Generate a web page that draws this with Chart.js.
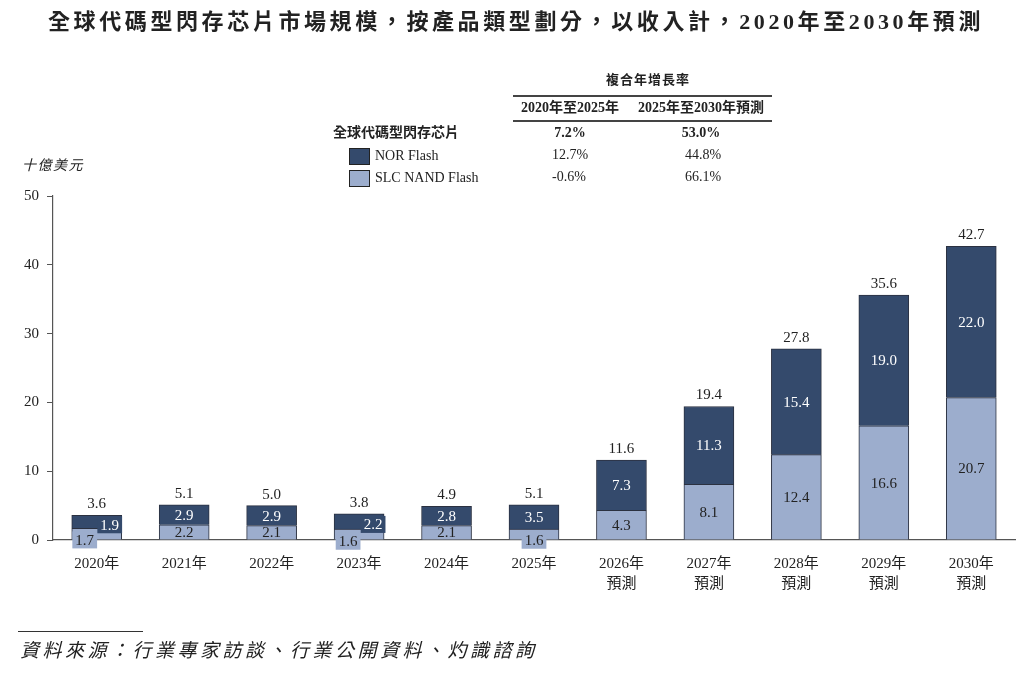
<!DOCTYPE html>
<html>
<head>
<meta charset="utf-8">
<script src="https://cdn.jsdelivr.net/npm/chart.js@4"></script>
<style>
  body { margin: 0; background: #fff; }
  #wrap { position: relative; width: 1032px; height: 675px; overflow: hidden;
          font-family: "Liberation Serif", "Noto Sans CJK TC", serif; color: #222; }
  #wrap canvas { position: absolute; left: 0; top: 0; }
  .t { position: absolute; white-space: nowrap; line-height: 1; }
  .c { transform: translateX(-50%); }
  .b { font-weight: bold; }
  .rule { position: absolute; left: 513px; width: 259px; height: 2px; background: #444; }
  .sw { position: absolute; width: 19px; height: 15px; border: 1px solid #222; }
</style>
</head>
<body>
<div id="wrap">
  <canvas id="flash" width="1032" height="675"></canvas>

  <div class="t c b" style="left:516px; top:11px; font-size:22px; letter-spacing:3.6px;">全球代碼型閃存芯片市場規模，按產品類型劃分，以收入計，2020年至2030年預測</div>

  <div class="t c b" style="left:648px; top:73px; font-size:13px; letter-spacing:1px;">複合年增長率</div>
  <div class="rule" style="top:95px;"></div>
  <div class="t c b" style="left:570px; top:101px; font-size:14px;">2020年至2025年</div>
  <div class="t c b" style="left:701px; top:101px; font-size:14px;">2025年至2030年預測</div>
  <div class="rule" style="top:120px;"></div>

  <div class="t b" style="left:333px; top:126px; font-size:14px;">全球代碼型閃存芯片</div>
  <div class="t c b" style="left:570px; top:126px; font-size:14px;">7.2%</div>
  <div class="t c b" style="left:701px; top:126px; font-size:14px;">53.0%</div>

  <div class="sw" style="left:349px; top:148px; background:#344a6c;"></div>
  <div class="t" style="left:375px; top:149px; font-size:14px;">NOR Flash</div>
  <div class="t c" style="left:570px; top:148px; font-size:14px;">12.7%</div>
  <div class="t c" style="left:703px; top:148px; font-size:14px;">44.8%</div>

  <div class="sw" style="left:349px; top:170px; background:#9cadcd;"></div>
  <div class="t" style="left:375px; top:171px; font-size:14px;">SLC NAND Flash</div>
  <div class="t c" style="left:569px; top:170px; font-size:14px;">-0.6%</div>
  <div class="t c" style="left:703px; top:170px; font-size:14px;">66.1%</div>

  <div class="t" style="left:22px; top:159px; font-size:14px; font-style:italic; letter-spacing:1.5px;">十億美元</div>

  <div style="position:absolute; left:18px; top:631px; width:125px; height:1px; background:#333;"></div>
  <div class="t" style="left:20px; top:641px; font-size:19px; font-style:italic; letter-spacing:3.5px;">資料來源：行業專家訪談、行業公開資料、灼識諮詢</div>
</div>

<script>
// categories and values, in billions of US dollars
var years = [['2020年'], ['2021年'], ['2022年'], ['2023年'], ['2024年'], ['2025年'],
             ['2026年', '預測'], ['2027年', '預測'], ['2028年', '預測'], ['2029年', '預測'], ['2030年', '預測']];
var norFlash = [1.9, 2.9, 2.9, 2.2, 2.8, 3.5, 7.3, 11.3, 15.4, 19.0, 22.0];
var slcNand  = [1.7, 2.2, 2.1, 1.6, 2.1, 1.6, 4.3, 8.1, 12.4, 16.6, 20.7];
var totals   = [3.6, 5.1, 5.0, 3.8, 4.9, 5.1, 11.6, 19.4, 27.8, 35.6, 42.7];
var yTicks   = [0, 10, 20, 30, 40, 50];

var darkBlue = '#344a6c';
var lightBlue = '#9cadcd';

// labels that do not fit inside their segment get moved a bit and drawn on a box
var nudges = [
    { 0: [-12, 6], 3: [-11, 7], 5: [0, 6] },   // SLC NAND
    { 0: [13, 3], 3: [14, 3] }                  // NOR
];

var barLabels = {
    id: 'barLabels',
    afterDatasetsDraw: function (chart) {
        var ctx = chart.ctx;
        ctx.save();
        ctx.font = '15px "Liberation Serif", serif';
        ctx.textAlign = 'center';
        ctx.textBaseline = 'middle';
        chart.data.datasets.forEach(function (ds, di) {
            var meta = chart.getDatasetMeta(di);
            meta.data.forEach(function (bar, i) {
                var txt = ds.data[i].toFixed(1);
                var x = bar.x, y = (bar.y + bar.base) / 2;
                var n = nudges[di][i];
                if (n) {
                    x += n[0]; y += n[1];
                    var w = ctx.measureText(txt).width + 6;
                    ctx.fillStyle = ds.backgroundColor;
                    ctx.fillRect(x - w / 2, y - 8.5, w, 17);
                }
                ctx.fillStyle = di == 1 ? '#fff' : '#222';
                ctx.fillText(txt, x, y + 1);
            });
        });
        // totals on top of each stack
        var top = chart.getDatasetMeta(1);
        ctx.fillStyle = '#222';
        top.data.forEach(function (bar, i) {
            ctx.fillText(totals[i].toFixed(1), bar.x, bar.y - 11);
        });
        ctx.restore();
    }
};

var ctx1 = document.getElementById('flash').getContext('2d');
var flash = new Chart(ctx1, {
    type: 'bar',
    data: {
        labels: years,
        datasets: [{
            label: 'SLC NAND Flash',
            data: slcNand,
            backgroundColor: lightBlue,
            borderColor: '#2b3140',
            borderWidth: 1,
            barThickness: 50
        }, {
            label: 'NOR Flash',
            data: norFlash,
            backgroundColor: darkBlue,
            borderColor: '#2b3140',
            borderWidth: 1,
            barThickness: 50
        }]
    },
    options: {
        responsive: false,
        animation: false,
        layout: {
            padding: { top: 196, right: 17, left: 0, bottom: 0 }
        },
        plugins: {
            legend: { display: false },
            tooltip: { enabled: false }
        },
        scales: {
            x: {
                stacked: true,
                grid: { display: false },
                border: { color: '#555', width: 1.2 },
                ticks: {
                    color: '#222',
                    padding: 6,
                    font: { family: '"Liberation Serif", "Noto Sans CJK TC", serif', size: 15, lineHeight: 1.35 }
                },
                afterFit: function (s) { s.height = 135; }
            },
            y: {
                stacked: true,
                min: 0,
                max: 50,
                afterBuildTicks: function (s) {
                    s.ticks = yTicks.map(function (v) { return { value: v }; });
                },
                grid: { drawOnChartArea: false, drawTicks: true, tickLength: 6, color: '#555' },
                border: { color: '#555', width: 1.2 },
                ticks: {
                    color: '#222',
                    padding: 8,
                    font: { family: '"Liberation Serif", serif', size: 15 }
                },
                afterFit: function (s) { s.width = 53; }
            }
        }
    },
    plugins: [barLabels]
});
</script>
</body>
</html>
